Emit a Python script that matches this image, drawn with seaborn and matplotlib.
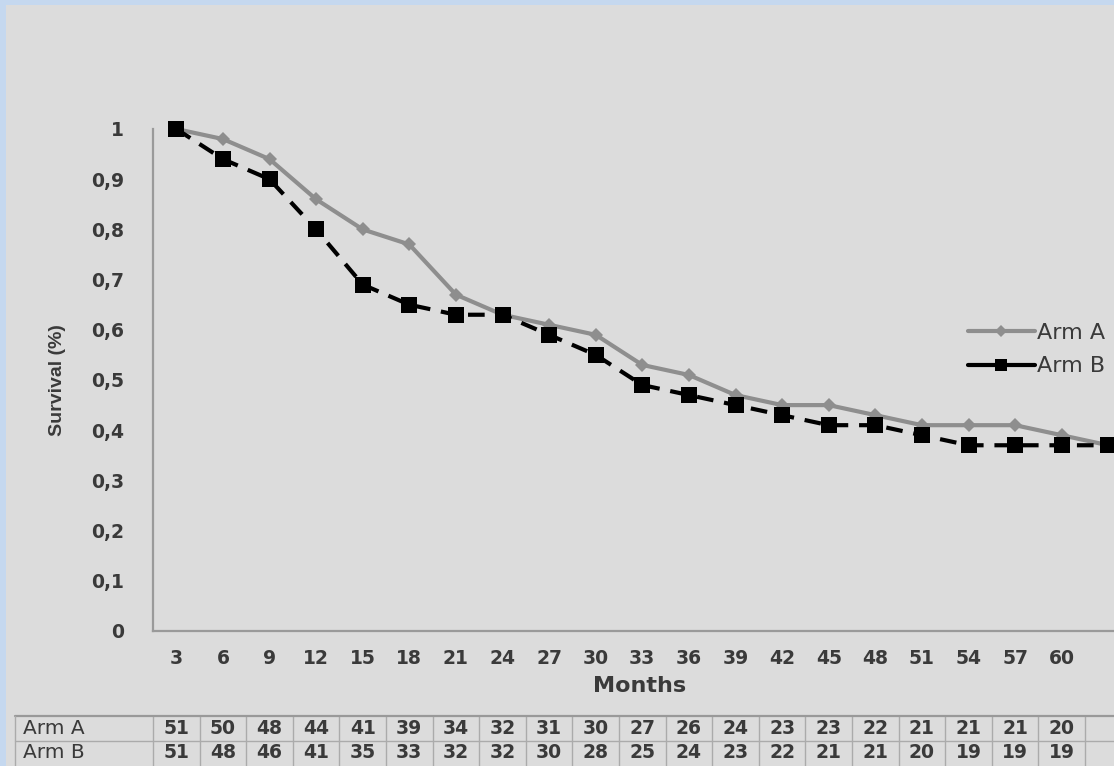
import numpy as np
import pandas as pd
import matplotlib
matplotlib.use("Agg")
import matplotlib.pyplot as plt
import seaborn as sns
from matplotlib.lines import Line2D
from matplotlib.patches import Rectangle
from matplotlib.transforms import blended_transform_factory

# ---------------- data ----------------
months = [3, 6, 9, 12, 15, 18, 21, 24, 27, 30, 33, 36, 39, 42, 45, 48, 51, 54, 57, 60, 63]
arm_a = [1.00, 0.98, 0.94, 0.86, 0.80, 0.77, 0.67, 0.63, 0.61, 0.59, 0.53,
         0.51, 0.47, 0.45, 0.45, 0.43, 0.41, 0.41, 0.41, 0.39, 0.37]
arm_b = [1.00, 0.94, 0.90, 0.80, 0.69, 0.65, 0.63, 0.63, 0.59, 0.55, 0.49,
         0.47, 0.45, 0.43, 0.41, 0.41, 0.39, 0.37, 0.37, 0.37, 0.37]
tick_months = [3, 6, 9, 12, 15, 18, 21, 24, 27, 30, 33, 36, 39, 42, 45, 48, 51, 54, 57, 60]
y_ticks = [0, 0.1, 0.2, 0.3, 0.4, 0.5, 0.6, 0.7, 0.8, 0.9, 1.0]
y_tick_labels = ["0", "0,1", "0,2", "0,3", "0,4", "0,5", "0,6", "0,7", "0,8", "0,9", "1"]
risk_a = [51, 50, 48, 44, 41, 39, 34, 32, 31, 30, 27, 26, 24, 23, 23, 22, 21, 21, 21, 20]
risk_b = [51, 48, 46, 41, 35, 33, 32, 32, 30, 28, 25, 24, 23, 22, 21, 21, 20, 19, 19, 19]
series_names = ["Arm A", "Arm B"]

df = pd.DataFrame({
    "Months": months * 2,
    "Survival": arm_a + arm_b,
    "Arm": [series_names[0]] * len(months) + [series_names[1]] * len(months),
})

# ---------------- style ----------------
sns.set_theme(style="white")
plt.rcParams["font.family"] = ["DejaVu Sans"]

W, H = 1114, 766
BG = "#dcdcdc"
BLUE = "#c5d8ef"
TXT = "#3a3a3a"
GRAY_LINE = "#8e8e8e"

fig = plt.figure(figsize=(W / 100, H / 100), dpi=100)
fig.patch.set_facecolor(BLUE)
fig.add_artist(Rectangle((6 / W, 0), 1, 1 - 5 / H, transform=fig.transFigure,
                         facecolor=BG, edgecolor="none", zorder=-10))

ax = fig.add_axes([153 / W, 1 - 631 / H, 961 / W, (631 - 129) / H])
ax.set_facecolor("none")

sub_a = df[df["Arm"] == "Arm A"]
sub_b = df[df["Arm"] == "Arm B"]
sns.lineplot(data=sub_a, x="Months", y="Survival", ax=ax, color=GRAY_LINE,
             linewidth=3.0, marker="D", markersize=7, markeredgewidth=0,
             clip_on=False, legend=False, zorder=3)
sns.lineplot(data=sub_b, x="Months", y="Survival", ax=ax, color="black",
             linewidth=3.0, marker="s", markersize=11.5, markeredgewidth=0,
             clip_on=False, legend=False, zorder=4)
ax.lines[-1].set_dashes((4, 2.6))

px_per_month = 46.6 / 3
ax.set_xlim(1.5, 1.5 + 961 / px_per_month)
ax.set_ylim(0, 1.0)
ax.set_xticks(tick_months)
ax.set_xticklabels([str(m) for m in tick_months])
ax.set_yticks(y_ticks)
ax.set_yticklabels(y_tick_labels)
ax.tick_params(axis="both", length=0, labelsize=13.5, labelcolor=TXT)
ax.tick_params(axis="y", pad=21)
ax.tick_params(axis="x", pad=13)
for lab in ax.get_xticklabels() + ax.get_yticklabels():
    lab.set_fontweight("bold")
ax.set_xlabel("")
ax.set_ylabel("")
for s in ["top", "right"]:
    ax.spines[s].set_visible(False)
for s in ["left", "bottom"]:
    ax.spines[s].set_color("#9a9a9a")
    ax.spines[s].set_linewidth(1.6)
ax.grid(False)

fig.text(640 / W, 1 - 686 / H, "Months", ha="center", va="center",
         fontsize=16, fontweight="bold", color=TXT)
fig.text(58 / W, 1 - 380 / H, "Survival (%)", ha="center", va="center",
         rotation=90, fontsize=14, fontweight="bold", color=TXT,
         family=["Liberation Sans Narrow", "Liberation Sans", "DejaVu Sans"])

# legend
handles = [
    Line2D([], [], color=GRAY_LINE, lw=3.0, marker="D", markersize=6, markeredgewidth=0),
    Line2D([], [], color="black", lw=3.0, marker="s", markersize=9, markeredgewidth=0),
]
fig.legend(handles, series_names, loc="upper left",
           bbox_to_anchor=(968 / W, 1 - 323 / H), bbox_transform=fig.transFigure,
           frameon=False, fontsize=16, handlelength=3.0, handletextpad=0.1,
           labelspacing=0.6, labelcolor=TXT, borderaxespad=0, borderpad=0)

# ---------------- number-at-risk table ----------------
axt = fig.add_axes([153 / W, 0, 961 / W, 50 / H])
axt.set_xlim(ax.get_xlim())
axt.set_ylim(0, 50)
axt.axis("off")
blend = blended_transform_factory(fig.transFigure, axt.transData)
grid_c = "#ababab"
fig.add_artist(Line2D([15 / W, 1], [50, 50], transform=blend, color="#999999", lw=1.6))
fig.add_artist(Line2D([15 / W, 1], [25, 25], transform=blend, color=grid_c, lw=1.0))
fig.add_artist(Line2D([15 / W, 15 / W], [0, 50], transform=blend, color=grid_c, lw=1.0))
for m in tick_months + [tick_months[-1] + 3]:
    axt.plot([m - 1.5, m - 1.5], [0, 50], color=grid_c, lw=1.0, clip_on=False)
for row_y, name, vals in [(37.5, series_names[0], risk_a), (13, series_names[1], risk_b)]:
    fig.text(23 / W, 0, name, transform=blend, ha="left", va="center",
             fontsize=14.5, color=TXT).set_y(row_y)
    for m, v in zip(tick_months, vals):
        axt.text(m, row_y, str(v), ha="center", va="center", fontsize=13.5,
                 fontweight="bold", color=TXT)

fig.savefig("out.png", dpi=100, facecolor=fig.get_facecolor())
